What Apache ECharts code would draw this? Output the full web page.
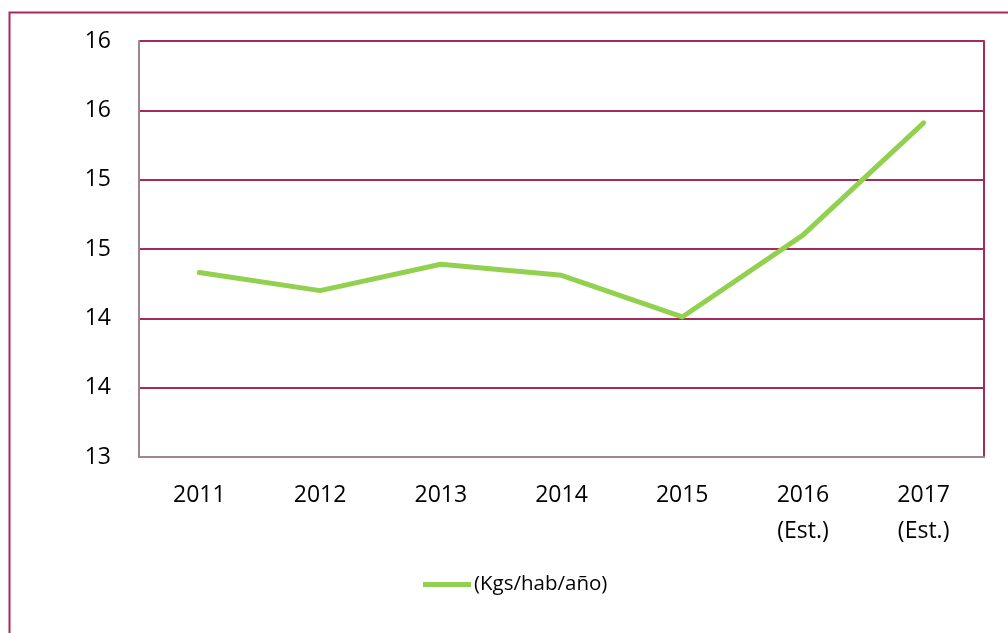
<!DOCTYPE html>
<html>
<head>
<meta charset="utf-8">
<script src="https://cdn.jsdelivr.net/npm/echarts@6/dist/echarts.min.js"></script>
<style>html,body{margin:0;padding:0;background:#fff}#c{width:1008px;height:633px}</style>
</head>
<body>
<div id="c"></div>
<script>
const categories = ['2011', '2012', '2013', '2014', '2015', '2016\n(Est.)', '2017\n(Est.)'];
const seriesName = '(Kgs/hab/año)';
const values = [14.33, 14.2, 14.39, 14.31, 14.01, 14.6, 15.41];
const yMin = 13, yMax = 16, yStep = 0.5;

const magenta = '#a52a5f';
const greyAxis = '#a08492';
const font = 'Open Sans';

const chart = echarts.init(document.getElementById('c'), null, {renderer: 'canvas'});
chart.setOption({
  animation: false,
  backgroundColor: '#fff',
  textStyle: {fontFamily: font},
  graphic: [{
    type: 'rect', left: 7, top: 10, z: 100,
    shape: {x: 0, y: 0, width: 1010, height: 630},
    style: {fill: 'none', stroke: magenta, lineWidth: 2}
  }],
  grid: {left: 139, right: 24, top: 41, bottom: 176, containLabel: false},
  legend: {
    left: 418, top: 569,
    itemWidth: 48, itemHeight: 14, itemGap: 4,
    textStyle: {fontFamily: font, fontSize: 20.5, color: '#000', padding: [0, 0, 0, -2]},
    data: [{name: seriesName, icon: 'path://M0,0 L48,0 L48,5 L0,5 Z', itemStyle: {color: '#92d050'}}]
  },
  xAxis: {
    type: 'category', data: categories, boundaryGap: true,
    axisLine: {show: true, lineStyle: {color: greyAxis, width: 2}},
    axisTick: {show: false},
    axisLabel: {color: '#000', fontFamily: font, fontSize: 23, lineHeight: 36, margin: 20, interval: 0}
  },
  yAxis: [{
    type: 'value', min: yMin, max: yMax, interval: yStep,
    axisLine: {show: true, lineStyle: {color: greyAxis, width: 2}},
    axisTick: {show: false},
    splitLine: {show: true, lineStyle: {color: magenta, width: 2}},
    axisLabel: {color: '#000', fontFamily: font, fontSize: 23, margin: 28,
      formatter: v => String(Math.round(v))}
  }, {
    type: 'value', min: yMin, max: yMax, interval: yStep, position: 'right',
    axisLine: {show: true, lineStyle: {color: magenta, width: 2}},
    axisTick: {show: false}, axisLabel: {show: false}, splitLine: {show: false}
  }],
  series: [{
    name: seriesName, type: 'line', data: values, yAxisIndex: 0,
    symbol: 'none', smooth: false,
    lineStyle: {color: '#92d050', width: 5, cap: 'round', join: 'round'},
    itemStyle: {color: '#92d050'}
  }]
});
</script>
</body>
</html>
